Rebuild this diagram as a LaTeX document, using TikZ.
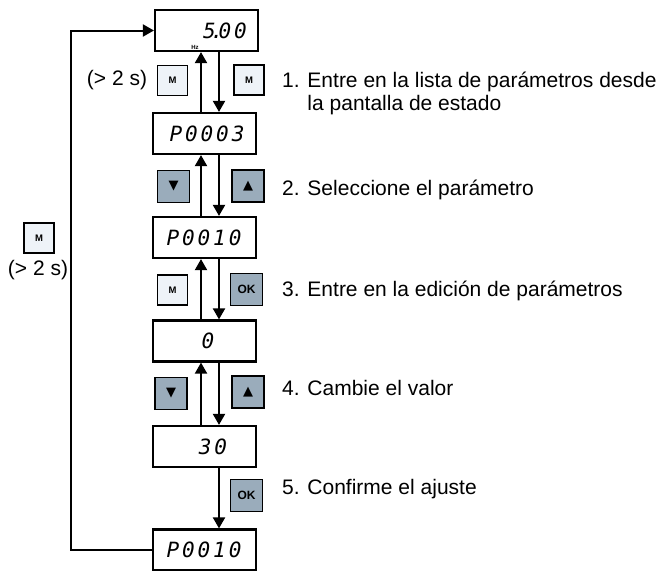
\documentclass[tikz,border=0pt]{standalone}
\usepackage{fontspec}
\setmainfont{Liberation Sans}
\newfontfamily\lcdfont{DejaVu Sans Mono}[LetterSpace=14]
\newfontfamily\keyglyphs{DejaVu Sans}
\usepackage{xcolor}
\usepackage{tikz}
\usetikzlibrary{arrows.meta}
\definecolor{keylight}{HTML}{EEF3F8}
\definecolor{keydark}{HTML}{9AACBB}

\begin{document}
\begin{tikzpicture}[x=1pt, y=-1pt,
    lcd/.style={draw, line width=2.2pt, minimum width=103pt, minimum height=41pt, inner sep=0pt},
    digits/.style={font=\fontsize{21}{21}\selectfont\lcdfont\itshape, inner sep=0pt},
    keyM/.style={draw, line width=1.8pt, fill=keylight, minimum size=30pt, inner sep=0pt, font=\fontsize{9.5}{9.5}\selectfont\bfseries},
    keyD/.style={draw, line width=1.8pt, fill=keydark, minimum size=32pt, inner sep=0pt, font=\fontsize{13}{13}\selectfont\keyglyphs},
    keyOK/.style={keyD, font=\fontsize{12}{12}\selectfont\bfseries},
    item/.style={anchor=base west, font=\fontsize{21}{23}\selectfont, align=left, inner sep=0pt},
    flow/.style={line width=2pt, -{Triangle[length=11pt, width=12pt]}},
]
\useasboundingbox (0,0) rectangle (665,571);

% Displays
\node[lcd] (b1) at (206.5, 30.5) {};
\node[lcd] (b2) at (204.5, 133.5) {};
\node[lcd] (b3) at (204.5, 237.5) {};
\node[lcd] (b4) at (204.5, 341) {};
\node[lcd] (b5) at (204.5, 446.5) {};
\node[lcd] (b6) at (204.5, 550) {};

\node[digits] (d1) at (225, 31) {5\kern-5pt.\kern-5pt00};
\node[digits] (d2) at (207, 133.5) {P0003};
\node[digits] (d3) at (204, 237.5) {P0010};
\node[digits] (d4) at (208, 341) {0};
\node[digits] (d5) at (213, 446.5) {30};
\node[digits] (d6) at (204, 550) {P0010};
\node[font=\fontsize{6}{6}\selectfont\bfseries, inner sep=0pt] (hz) at (195, 47) {Hz};

% Arrows between displays
\foreach \a/\b in {b1/b2, b2/b3, b3/b4, b4/b5} {
    \draw[flow] ([xshift=-3.5pt]\b.north) -- ([xshift=-3.5pt]\b.north |- \a.south);
    \draw[flow] ([xshift=14.5pt]\b.north |- \a.south) -- ([xshift=14.5pt]\b.north);
}
\draw[flow] ([xshift=14.5pt]b6.north |- b5.south) -- ([xshift=14.5pt]b6.north);

% Return loop
\coordinate (loop) at (71, 0);
\draw[flow] (b6.west) -- (b6.west -| loop) -- (b1.west -| loop) -- (b1.west);

% Keys
\node[keyM] (k1l) at (172.5, 80.5) {M};
\node[keyM] (k1r) at (249, 80) {M};
\node[keyD] (k2l) at (173.5, 186.5) {▼};
\node[keyD] (k2r) at (248, 186) {▲};
\node[keyM] (k3l) at (172.5, 290) {M};
\node[keyOK] (k3r) at (246.5, 289.5) {OK};
\node[keyD] (k4l) at (171, 393.5) {▼};
\node[keyD] (k4r) at (248, 392) {▲};
\node[keyOK] (k5r) at (246.5, 495.5) {OK};
\node[keyM] (k0) at (39, 238) {M};

% Hold times
\node[font=\fontsize{21}{21}\selectfont, inner sep=0pt] (t1) at (117, 80) {(> 2 s)};
\node[font=\fontsize{21}{21}\selectfont, inner sep=0pt] (t0) at (38, 270) {(> 2 s)};

% Steps
\node[item] (s1) at (282, 110) {1. Entre en la lista de parámetros desde\\\hphantom{1. }la pantalla de estado};
\node[item] (s2) at (282, 195) {2. Seleccione el parámetro};
\node[item] (s3) at (282, 296) {3. Entre en la edición de parámetros};
\node[item] (s4) at (282, 395) {4. Cambie el valor};
\node[item] (s5) at (282, 494) {5. Confirme el ajuste};

\end{tikzpicture}
\end{document}
